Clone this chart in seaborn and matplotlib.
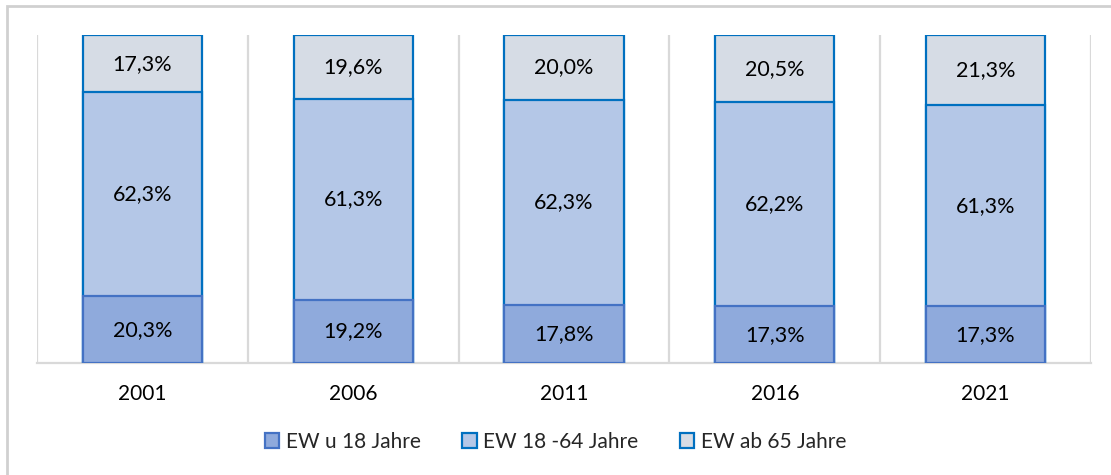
import matplotlib
matplotlib.use("Agg")
import matplotlib.pyplot as plt
import seaborn as sns
import pandas as pd
import numpy as np
from matplotlib.patches import Rectangle, Patch

years = ["2001", "2006", "2011", "2016", "2021"]
under18 = [20.3, 19.2, 17.8, 17.3, 17.3]
age18_64 = [62.3, 61.3, 62.3, 62.2, 61.3]
over65 = [17.3, 19.6, 20.0, 20.5, 21.3]
series_names = ["EW u 18 Jahre", "EW 18 -64 Jahre", "EW ab 65 Jahre"]

fills = ["#8FAADC", "#B4C7E7", "#D6DCE5"]
edges = ["#4472C4", "#0070C0", "#0070C0"]

sns.set_theme(style="white")
plt.rcParams["font.family"] = ["Lato", "DejaVu Sans"]

fig = plt.figure(figsize=(11.11, 4.75), dpi=100)
ax = fig.add_axes([37/1111, 1-363/475, (1091-37)/1111, (363-35)/475])

df = pd.DataFrame({"year": years, "u18": under18, "m": age18_64, "o65": over65})
df["c1"] = df["u18"]
df["c2"] = df["u18"] + df["m"]
df["c3"] = df["c2"] + df["o65"]

bw = 0.565
for col, fc, ec in [("c3", fills[2], edges[2]), ("c2", fills[1], edges[1]), ("c1", fills[0], edges[0])]:
    sns.barplot(data=df, x="year", y=col, color=fc, saturation=1, width=bw,
                edgecolor=ec, linewidth=1.6, ax=ax, zorder=3)

for i in range(len(years)):
    bottoms = [0, under18[i], under18[i] + age18_64[i]]
    vals = [under18[i], age18_64[i], over65[i]]
    for b, v in zip(bottoms, vals):
        ax.text(i, b + v/2, f"{v:.1f}%".replace(".", ","), ha="center", va="center",
                fontsize=15.5, color="#000000", zorder=5)

ax.set_xlim(-0.5, len(years) - 0.5)
ax.set_ylim(0, 100)
ax.set_yticks([])
ax.set_xlabel("")
ax.set_ylabel("")
for x in np.arange(-0.5, len(years), 1.0):
    ax.axvline(x, color="#D9D9D9", linewidth=1.6, zorder=1)
for s in ["left", "right", "top"]:
    ax.spines[s].set_visible(False)
ax.spines["bottom"].set_color("#D9D9D9")
ax.spines["bottom"].set_linewidth(1.6)
ax.tick_params(axis="x", length=0, pad=15, labelsize=15, colors="#000000")
ax.set_facecolor("none")

handles = [Patch(facecolor=f, edgecolor=e, linewidth=1.6) for f, e in zip(fills, edges)]
fig.legend(handles, series_names, loc="center", bbox_to_anchor=(0.5, 1-442/475),
           ncol=3, frameon=False, fontsize=15, handlelength=0.7, handleheight=0.7,
           handletextpad=0.3, columnspacing=2.0)

fig.patches.append(Rectangle((7/1111, -0.1), 1.2, 1-6/475+0.1, transform=fig.transFigure,
                             fill=False, edgecolor="#D0D0D0", linewidth=2))

fig.savefig("out.png", dpi=100)
